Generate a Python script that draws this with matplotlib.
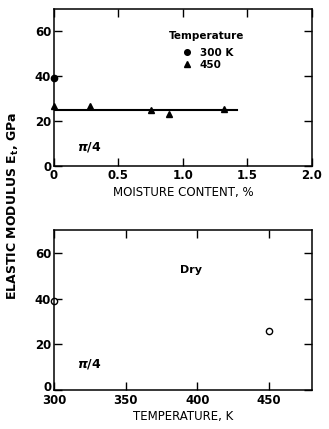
import matplotlib
matplotlib.use("Agg")
import matplotlib.pyplot as plt
import matplotlib.transforms as mtransforms
import numpy as np

# Moisture series (pi/4 laminate)
moist_300 = [0.0]
mod_300 = [39.0]
moist_450 = [0.0, 0.28, 0.75, 0.89, 1.32]
mod_450 = [26.5, 26.5, 25.0, 23.0, 25.3]
fit_moist = [0.0, 1.42]
fit_mod = [24.8, 24.8]

# Dry series vs temperature
temp_dry = [300, 450]
mod_dry = [39.0, 25.8]

plt.rcParams['font.family'] = ['DejaVu Sans']
plt.rcParams['font.weight'] = 'bold'
plt.rcParams['font.size'] = 9

fig = plt.figure(figsize=(3.29, 4.29), dpi=100)
ax1 = fig.add_axes([0.164, 0.613, 0.784, 0.367])
ax2 = fig.add_axes([0.164, 0.091, 0.784, 0.373])

for ax in (ax1, ax2):
    ax.tick_params(direction='in', length=6, width=1, top=True, right=True,
                   labelsize=8.5, pad=2)
    for s in ax.spines.values():
        s.set_linewidth(1.1)
    ax.set_ylim(0, 70)
    ax.set_yticks([0, 20, 40, 60])
ax2.tick_params(axis='x', pad=3)

# --- upper panel: moisture content ---
ax1.plot(fit_moist, fit_mod, color='black', lw=1.5)
h1, = ax1.plot(moist_300, mod_300, 'o', color='black', ms=4.5, clip_on=False)
h2, = ax1.plot(moist_450, mod_450, '^', color='black', ms=5, clip_on=False)
ax1.set_xlim(0, 2.0)
ax1.set_xticks([0, 0.5, 1.0, 1.5, 2.0])
ax1.set_xticklabels(['0', '0.5', '1.0', '1.5', '2.0'])
ax1.set_xlabel('MOISTURE CONTENT, %', fontsize=8.5, labelpad=3)
leg = ax1.legend([h1, h2], ['300 K', '450'], title='Temperature',
                 loc='upper left', bbox_to_anchor=(0.43, 0.885), frameon=False,
                 prop={'size': 7.5, 'weight': 'bold'}, title_fontsize=7.5,
                 handletextpad=0.5, handlelength=1.4, borderaxespad=0,
                 labelspacing=0.2, markerscale=0.9)
leg.get_title().set_fontweight('bold')
leg._legend_box.sep = 5
ax1.text(0.09, 0.10, r'$\pi$/4', transform=ax1.transAxes, fontsize=9)

# --- lower panel: temperature, dry ---
ax2.plot(temp_dry, mod_dry, 'o', mfc='white', mec='black', mew=1, ms=4.5,
         clip_on=False)
ax2.set_xlim(300, 480)
ax2.set_xticks([300, 350, 400, 450])
ax2.set_xlabel('TEMPERATURE, K', fontsize=8.5, labelpad=2)
ax2.text(0.49, 0.73, 'Dry', transform=ax2.transAxes, fontsize=8)
ax2.text(0.09, 0.14, r'$\pi$/4', transform=ax2.transAxes, fontsize=9)

# lift the "0" label a little so it clears the "300" below it
fig.canvas.draw()
lbl0 = ax2.get_yticklabels()[0]
lbl0.set_transform(lbl0.get_transform() +
                   mtransforms.ScaledTranslation(0, 3 / 72, fig.dpi_scale_trans))

fig.text(0.04, 0.52, r'ELASTIC MODULUS E$_\mathbf{t}$, GPa', rotation=90,
         ha='center', va='center', fontsize=9)

fig.savefig('out.png', dpi=100)
